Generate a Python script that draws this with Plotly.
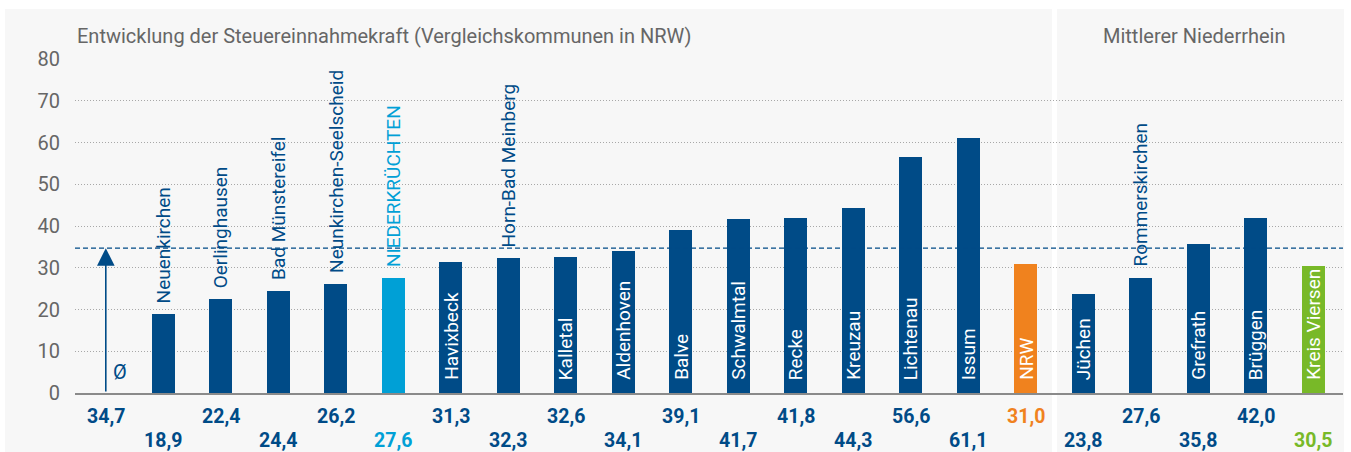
import plotly.graph_objects as go

categories = ["Ø", "Neuenkirchen", "Oerlinghausen", "Bad Münstereifel", "Neunkirchen-Seelscheid",
              "NIEDERKRÜCHTEN", "Havixbeck", "Horn-Bad Meinberg", "Kalletal", "Aldenhoven", "Balve",
              "Schwalmtal", "Recke", "Kreuzau", "Lichtenau", "Issum", "NRW", "Jüchen",
              "Rommerskirchen", "Grefrath", "Brüggen", "Kreis Viersen"]
values = [34.7, 18.9, 22.4, 24.4, 26.2, 27.6, 31.3, 32.3, 32.6, 34.1, 39.1, 41.7, 41.8, 44.3,
          56.6, 61.1, 31.0, 23.8, 27.6, 35.8, 42.0, 30.5]
value_labels = ["34,7", "18,9", "22,4", "24,4", "26,2", "27,6", "31,3", "32,3", "32,6", "34,1", "39,1",
                "41,7", "41,8", "44,3", "56,6", "61,1", "31,0", "23,8", "27,6", "35,8", "42,0", "30,5"]
y_ticks = [0, 10, 20, 30, 40, 50, 60, 70, 80]
title_left = "Entwicklung der Steuereinnahmekraft (Vergleichskommunen in NRW)"
title_right = "Mittlerer Niederrhein"

DARK = "#004b87"
LIGHT = "#00a0d6"
ORANGE = "#f0821e"
GREEN = "#78b928"
special = {"NIEDERKRÜCHTEN": LIGHT, "NRW": ORANGE, "Kreis Viersen": GREEN}
above = {"Neuenkirchen", "Oerlinghausen", "Bad Münstereifel", "Neunkirchen-Seelscheid",
         "NIEDERKRÜCHTEN", "Horn-Bad Meinberg", "Rommerskirchen"}

colors = [special.get(c, DARK) for c in categories]
FONT = "Roboto"

# pixel geometry helpers (plot area: x 75..1343, y 59..393)
L, R, T, B = 75, 8, 59, 59
W, H = 1351, 452
PW, PH = W - L - R, H - T - B
def px_x(p):
    return (p - L) / PW
def px_y(p):
    return (H - B - p) / PH

xs = list(range(len(categories)))
fig = go.Figure()
fig.add_trace(go.Bar(x=xs[1:], y=values[1:], marker_color=colors[1:], width=0.405,
                     marker_line_width=0, hoverinfo="skip"))

shapes = [
    dict(type="rect", xref="paper", yref="paper", x0=px_x(5), x1=px_x(1052), y0=px_y(452), y1=px_y(9),
         fillcolor="#f7f7f7", line_width=0, layer="below"),
    dict(type="rect", xref="paper", yref="paper", x0=px_x(1057), x1=px_x(1344), y0=px_y(452), y1=px_y(9),
         fillcolor="#f7f7f7", line_width=0, layer="below"),
    dict(type="line", xref="paper", yref="y", x0=0, x1=1, y0=values[0], y1=values[0],
         line=dict(color=DARK, width=1.2, dash="5px,3px"), layer="above"),
]

annotations = []
# arrow for average
annotations.append(dict(x=0, y=values[0], ax=0, ay=0, axref="x", ayref="y", xref="x", yref="y",
                        text="", showarrow=True, arrowhead=2, arrowsize=2.2, arrowwidth=1.6,
                        arrowcolor=DARK, standoff=0))
annotations.append(dict(x=0.25, y=5, xref="x", yref="y", text="Ø", showarrow=False,
                        font=dict(family=FONT, size=20, color=DARK)))

for i, c in enumerate(categories):
    if i == 0:
        continue
    if c in above:
        annotations.append(dict(x=i, y=values[i], xref="x", yref="y", text=c, textangle=-90,
                                showarrow=False, yanchor="bottom", xanchor="center", yshift=9,
                                font=dict(family=FONT, size=19, color=colors[i])))
    else:
        annotations.append(dict(x=i, y=0, xref="x", yref="y", text=c, textangle=-90,
                                showarrow=False, yanchor="bottom", xanchor="center", yshift=11,
                                font=dict(family=FONT, size=19, color="white")))

for i, lab in enumerate(value_labels):
    row_y = px_y(416) if i % 2 == 0 else px_y(440)
    annotations.append(dict(x=i, y=row_y, xref="x", yref="paper", text="<b>" + lab + "</b>",
                            showarrow=False, yanchor="middle", xanchor="center",
                            font=dict(family=FONT, size=19.5, color=colors[i])))

annotations.append(dict(x=0, y=px_y(36), xref="paper", yref="paper", text=title_left,
                        showarrow=False, xanchor="left", yanchor="middle",
                        font=dict(family=FONT, size=20, color="#666666")))
annotations.append(dict(x=px_x(1194), y=px_y(36), xref="paper", yref="paper", text=title_right,
                        showarrow=False, xanchor="center", yanchor="middle",
                        font=dict(family=FONT, size=20, color="#666666")))

slot_px = 57.5
x0_px = 105.8
fig.update_layout(
    width=W, height=H,
    margin=dict(l=L, r=R, t=T, b=B, pad=0),
    paper_bgcolor="white", plot_bgcolor="rgba(0,0,0,0)",
    showlegend=False,
    shapes=shapes, annotations=annotations,
    xaxis=dict(range=[(L - x0_px) / slot_px, (W - R - x0_px) / slot_px], showticklabels=False,
               showgrid=False, zeroline=False, showline=True, linecolor="#8a8a8a", linewidth=2,
               fixedrange=True),
    yaxis=dict(range=[0, 80], tickvals=y_ticks, showgrid=True, gridcolor="#a8a8a8",
               griddash="1px,2px", gridwidth=1, zeroline=False, showline=False, ticks="",
               ticklabelstandoff=14,
               tickfont=dict(family=FONT, size=20, color="#666666"), fixedrange=True),
    bargap=0,
)

fig.write_html("out.html", config={"displayModeBar": False},
               post_script="document.body.style.margin='0';document.body.style.overflow='hidden';")
